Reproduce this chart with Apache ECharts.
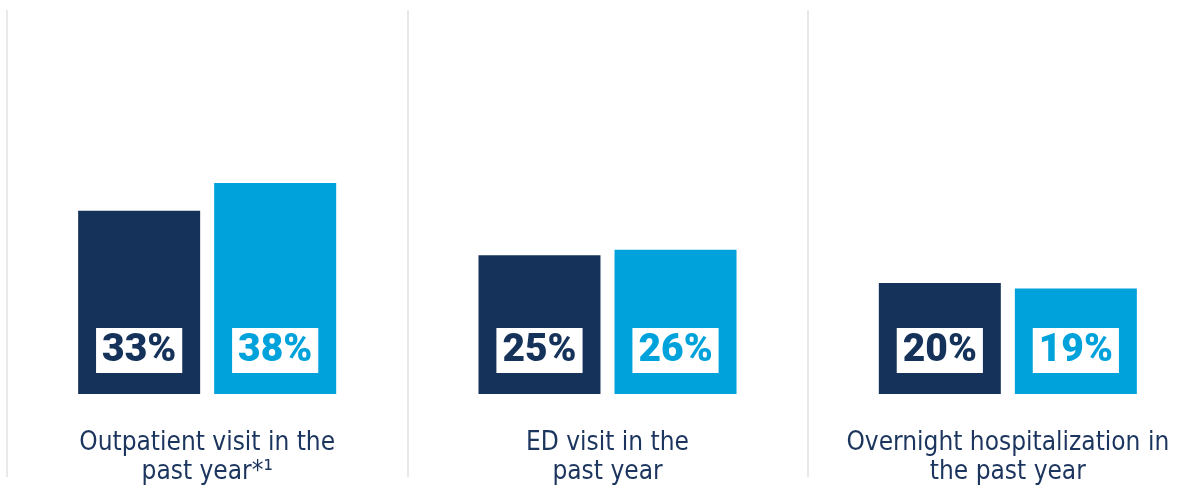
<!DOCTYPE html>
<html>
<head>
<meta charset="utf-8">
<script src="https://cdn.jsdelivr.net/npm/echarts@6/dist/echarts.min.js"></script>
<style>
html,body{margin:0;padding:0;background:#fff;}
#chart{width:1196px;height:485px;}
</style>
</head>
<body>
<div id="chart"></div>
<script>
const categories = ['Outpatient visit in the\npast year*\u00B9', 'ED visit in the\npast year', 'Overnight hospitalization in\nthe past year'];
const seriesA = [33, 25, 20];
const seriesB = [38, 26, 19];
const seriesNames = ['Group A', 'Group B'];

const darkBlue = '#15325A';
const lightBlue = '#00A2DB';

function labelFor(color) {
  return {
    show: true,
    position: 'insideBottom',
    distance: 21,
    formatter: '{c}%',
    backgroundColor: '#ffffff',
    padding: [5, 6, 3, 6],
    lineHeight: 37,
    fontSize: 39,
    fontWeight: 900,
    fontFamily: 'Roboto, "Liberation Sans", sans-serif',
    color: color
  };
}

const chart = echarts.init(document.getElementById('chart'));
chart.setOption({
  animation: false,
  backgroundColor: '#ffffff',
  grid: [
    { left: 7, width: 1201, top: 5.5, bottom: 91, containLabel: false, outerBoundsMode: 'none' },
    { left: 7, width: 1201, top: 10, bottom: 8, containLabel: false, outerBoundsMode: 'none' }
  ],
  xAxis: [
    {
      type: 'category',
      gridIndex: 0,
      data: categories,
      axisLine: { show: false },
      axisTick: { show: false },
      splitLine: { show: false },
      axisLabel: {
        interval: 0,
        margin: 35,
        fontSize: 26,
        lineHeight: 29,
        color: '#1B355E',
        fontFamily: '"DejaVu Sans Condensed", "DejaVu Sans", sans-serif'
      }
    },
    {
      type: 'category',
      gridIndex: 1,
      data: categories,
      axisLine: { show: false },
      axisTick: { show: false },
      axisLabel: { show: false },
      splitLine: { show: true, lineStyle: { color: '#e9e9e9', width: 2 } }
    }
  ],
  yAxis: [
    { type: 'value', gridIndex: 0, min: 0, max: 70, show: false },
    { type: 'value', gridIndex: 1, min: 0, max: 1, show: false }
  ],
  series: [
    {
      name: seriesNames[0],
      type: 'bar',
      xAxisIndex: 0, yAxisIndex: 0,
      data: seriesA,
      barWidth: 122,
      barGap: '11.5%',
      itemStyle: { color: darkBlue },
      label: labelFor(darkBlue)
    },
    {
      name: seriesNames[1],
      type: 'bar',
      xAxisIndex: 0, yAxisIndex: 0,
      data: seriesB,
      barWidth: 122,
      barGap: '11.5%',
      itemStyle: { color: lightBlue },
      label: labelFor(lightBlue)
    }
  ]
});
</script>
</body>
</html>
